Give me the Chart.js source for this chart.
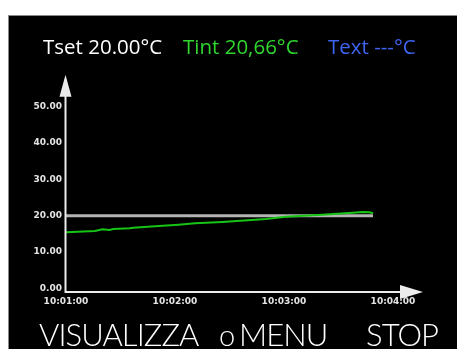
<!DOCTYPE html>
<html>
<head>
<meta charset="utf-8">
<script src="https://cdn.jsdelivr.net/npm/chart.js@4.4.1/dist/chart.umd.min.js"></script>
<style>
  html, body { margin: 0; padding: 0; background: #fff; width: 457px; height: 349px; overflow: hidden; }
  #panel { position: absolute; left: 8px; top: 15px; width: 449px; height: 334px; background: #000;
           border-top: 1px solid #8a8a8a; border-left: 1px solid #8a8a8a; box-sizing: border-box; }
  #chart { position: absolute; left: 0; top: 0; }
  .hdr { position: absolute; top: 36px; font-family: "Open Sans", sans-serif; font-size: 20.5px; line-height: 20px; white-space: nowrap; }
  .ftr { position: absolute; top: 318px; font-family: "Lato", sans-serif; font-weight: 300; font-size: 31px; line-height: 32px;
         letter-spacing: -0.9px; color: #fff; white-space: nowrap; }
</style>
</head>
<body>
<div id="panel"></div>
<canvas id="chart" width="457" height="349"></canvas>
<div class="hdr" style="left:43px;color:#ffffff">Tset 20.00°C</div>
<div class="hdr" style="left:183px;color:#2ed62e">Tint 20,66°C</div>
<div class="hdr" style="left:328px;color:#3f63f2">Text ---°C</div>
<div class="ftr" style="left:219px;top:319px;font-size:29px;letter-spacing:0">o</div>
<div class="ftr" style="left:39px">VISUALIZZA</div>
<div class="ftr" style="left:239px">MENU</div>
<div class="ftr" style="left:366px">STOP</div>
<script>
// Sample times of the temperature log
const sampleTimes = ["10:01:00","10:01:16","10:01:20","10:01:24","10:01:26","10:01:35","10:01:37",
  "10:01:49","10:02:02","10:02:11","10:02:26","10:02:50","10:03:01","10:03:21","10:03:38",
  "10:03:43","10:03:47","10:03:49"];
// Internal temperature (Tint), °C
const tintValues = [15.44,15.80,16.27,16.07,16.35,16.54,16.70,17.09,17.53,17.92,18.28,19.10,19.74,
  20.29,20.84,21.03,20.95,20.66];
// Set point (Tset), °C
const tsetValues = [20.00,20.00,20.00,20.00,20.00,20.00,20.00,20.00,20.00,20.00,20.00,20.00,20.00,
  20.00,20.00,20.00,20.00,20.00];
// Axis labels
const xTickLabels = ["10:01:00","10:02:00","10:03:00","10:04:00"];
const yTickValues = [0,10,20,30,40,50];

const toSec = s => { const p = s.split(":").map(Number); return p[0]*3600 + p[1]*60 + p[2]; };
const t0 = toSec(xTickLabels[0]);
const xs = sampleTimes.map(s => toSec(s) - t0);
const xMax = toSec(xTickLabels[xTickLabels.length-1]) - t0;

// Axis lines with arrow heads
const arrowAxes = {
  id: "arrowAxes",
  afterDraw(chart) {
    const { ctx, chartArea: a } = chart;
    const ax = a.left - 0.5, ay = a.bottom + 3.5;
    ctx.save();
    ctx.strokeStyle = "#ececec"; ctx.fillStyle = "#ececec"; ctx.lineWidth = 2;
    ctx.beginPath();
    ctx.moveTo(ax, ay + 1); ctx.lineTo(ax, a.top - 11);
    ctx.moveTo(ax - 1, ay); ctx.lineTo(a.right + 8, ay);
    ctx.stroke();
    ctx.beginPath();
    ctx.moveTo(ax - 6, a.top - 10); ctx.lineTo(ax + 6, a.top - 10); ctx.lineTo(ax, a.top - 32); ctx.closePath();
    ctx.fill();
    ctx.beginPath();
    ctx.moveTo(a.right + 7, ay - 7); ctx.lineTo(a.right + 7, ay + 7); ctx.lineTo(a.right + 30, ay); ctx.closePath();
    ctx.fill();
    ctx.restore();
  }
};

new Chart(document.getElementById("chart"), {
  type: "line",
  data: {
    datasets: [
      { label: "Tint", data: xs.map((x, i) => ({ x, y: tintValues[i] })), borderColor: "#16c416",
        borderWidth: 2, pointRadius: 0, tension: 0, order: 0 },
      { label: "Tset", data: xs.map((x, i) => ({ x, y: tsetValues[i] })), borderColor: "#b4b4b4",
        borderWidth: 3, pointRadius: 0, tension: 0, order: 1 }
    ]
  },
  options: {
    responsive: false, animation: false, events: [],
    layout: { padding: { left: 0, top: 106.7, right: 64, bottom: 0 } },
    plugins: { legend: { display: false }, tooltip: { enabled: false } },
    scales: {
      x: {
        type: "linear", min: 0, max: xMax,
        afterBuildTicks: s => { s.ticks = xTickLabels.map(l => ({ value: toSec(l) - t0 })); },
        afterFit: s => { s.height = 60.6; },
        grid: { display: false, drawTicks: false }, border: { display: false },
        ticks: { padding: 8, maxRotation: 0, color: "#e4e4e4",
                 font: { family: "DejaVu Sans", weight: "bold", size: 9 },
                 callback: v => xTickLabels[xTickLabels.findIndex(l => toSec(l) - t0 === v)] }
      },
      y: {
        min: 0, max: 50,
        afterBuildTicks: s => { s.ticks = yTickValues.map(v => ({ value: v })); },
        afterFit: s => { s.width = 66; },
        grid: { display: false, drawTicks: false }, border: { display: false },
        ticks: { padding: 4, color: "#e4e4e4",
                 font: { family: "DejaVu Sans", weight: "bold", size: 9 },
                 callback: v => Number(v).toFixed(2) }
      }
    }
  },
  plugins: [arrowAxes]
});
</script>
</body>
</html>
